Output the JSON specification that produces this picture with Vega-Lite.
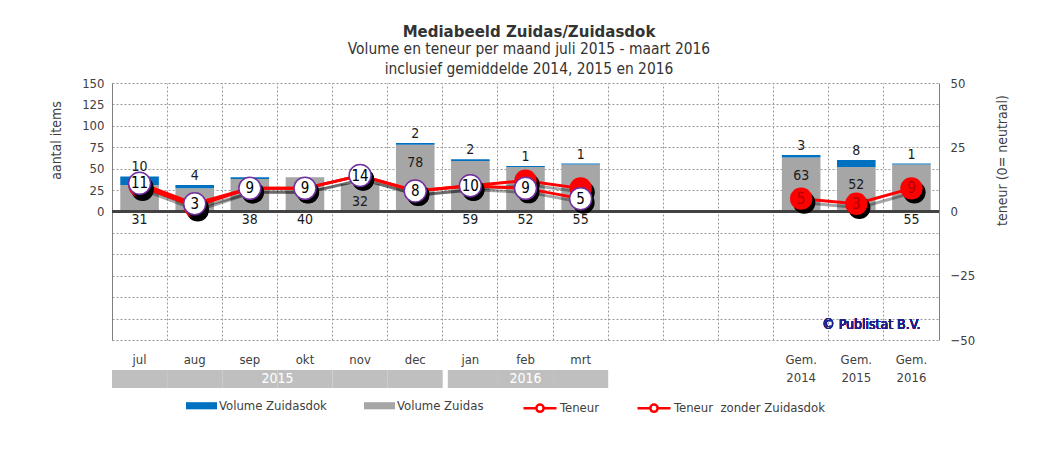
{
  "$schema": "https://vega.github.io/schema/vega-lite/v6.json",
  "padding": {"left": 48, "top": 24, "right": 40, "bottom": 20},
  "background": "white",
  "config": {
    "font": "DejaVu Sans Condensed",
    "view": {"stroke": null},
    "axis": {"labelColor": "#404040", "titleColor": "#404040", "titleFontWeight": "normal", "labelFontSize": 13, "titleFontSize": 14},
    "legend": {"labelFontSize": 13, "labelColor": "#404040"}
  },
  "title": {
    "text": "Mediabeeld Zuidas/Zuidasdok",
    "subtitle": ["Volume en teneur per maand juli 2015 - maart 2016", "inclusief gemiddelde 2014, 2015 en 2016"],
    "anchor": "middle",
    "font": "DejaVu Sans",
    "fontSize": 15,
    "fontWeight": "bold",
    "color": "#333333",
    "subtitleFont": "DejaVu Sans Condensed",
    "subtitleFontSize": 15.4,
    "subtitleColor": "#333333",
    "subtitleLineHeight": 20,
    "subtitlePadding": 2,
    "offset": 0
  },
  "datasets": {
    "maanden": [
      {"maand": "jul", "jaar": "2015", "groep": "maanden", "zuidas": 31, "zuidasdok": 10, "teneur": 10, "zonder": 11},
      {"maand": "aug", "jaar": "2015", "groep": "maanden", "zuidas": 27, "zuidasdok": 4, "teneur": 2, "zonder": 3},
      {"maand": "sep", "jaar": "2015", "groep": "maanden", "zuidas": 38, "zuidasdok": 2, "teneur": 9, "zonder": 9},
      {"maand": "okt", "jaar": "2015", "groep": "maanden", "zuidas": 40, "zuidasdok": 0, "teneur": 9, "zonder": 9},
      {"maand": "nov", "jaar": "2015", "groep": "maanden", "zuidas": 32, "zuidasdok": 0, "teneur": 14, "zonder": 14},
      {"maand": "dec", "jaar": "2015", "groep": "maanden", "zuidas": 78, "zuidasdok": 2, "teneur": 8, "zonder": 8},
      {"maand": "jan", "jaar": "2016", "groep": "maanden", "zuidas": 59, "zuidasdok": 2, "teneur": 10, "zonder": 10},
      {"maand": "feb", "jaar": "2016", "groep": "maanden", "zuidas": 52, "zuidasdok": 1, "teneur": 12, "zonder": 9},
      {"maand": "mrt", "jaar": "2016", "groep": "maanden", "zuidas": 55, "zuidasdok": 1, "teneur": 9, "zonder": 5},
      {"maand": "Gem. 2014", "jaar": null, "groep": "gemiddelden", "zuidas": 63, "zuidasdok": 3, "teneur": 5, "zonder": null},
      {"maand": "Gem. 2015", "jaar": null, "groep": "gemiddelden", "zuidas": 52, "zuidasdok": 8, "teneur": 3, "zonder": null},
      {"maand": "Gem. 2016", "jaar": null, "groep": "gemiddelden", "zuidas": 55, "zuidasdok": 1, "teneur": 9, "zonder": null}
    ]
  },
  "vconcat": [
    {
      "width": 827,
      "height": 257,
      "data": {"name": "maanden"},
      "layer": [
        {
          "transform": [{"fold": ["zuidas", "zuidasdok"], "as": ["soort", "aantal"]}],
          "mark": {"type": "bar", "width": {"band": 0.7}},
          "encoding": {
            "x": {
              "field": "maand", "type": "nominal",
              "scale": {"domain": ["jul", "aug", "sep", "okt", "nov", "dec", "jan", "feb", "mrt", " ", "  ", "   ", "Gem. 2014", "Gem. 2015", "Gem. 2016"], "paddingInner": 0, "paddingOuter": 0},
              "axis": {"orient": "top", "bandPosition": 0, "grid": true, "gridDash": [2, 2], "gridColor": "#999999", "labels": false, "ticks": false, "domain": false, "title": null}
            },
            "y": {
              "field": "aantal", "type": "quantitative", "stack": "zero",
              "scale": {"domain": [-150, 150], "nice": false},
              "axis": {
                "orient": "left",
                "values": [-150, -125, -100, -75, -50, -25, 0, 25, 50, 75, 100, 125, 150],
                "labelExpr": "datum.value >= 0 ? datum.label : ''",
                "grid": true, "gridDash": [2, 2], "gridColor": "#999999",
                "ticks": false, "domain": true, "domainColor": "#808080",
                "labelPadding": 8,
                "title": "aantal items",
                "titleX": -56, "titleY": 57, "titleAngle": -90, "titleAlign": "center", "titleBaseline": "middle"
              }
            },
            "fill": {
              "field": "soort", "type": "nominal",
              "scale": {"domain": ["zuidasdok", "zuidas"], "range": ["#0070C0", "#A6A6A6"]},
              "legend": {
                "orient": "none", "legendX": 74, "legendY": 307, "direction": "horizontal", "title": null,
                "symbolType": "M-1,-0.23H1V0.23H-1Z", "symbolSize": 961, "symbolStrokeWidth": 0,
                "labelOffset": 2, "columnPadding": 37,
                "labelExpr": "datum.value == 'zuidasdok' ? 'Volume Zuidasdok' : 'Volume Zuidas'"
              }
            },
            "order": {"field": "soort", "type": "ordinal", "sort": "ascending"}
          }
        },
        {
          "mark": {"type": "rule", "color": "#404040", "strokeWidth": 1.5},
          "encoding": {"y": {"datum": 0, "type": "quantitative", "scale": {"domain": [-150, 150], "nice": false}, "axis": null}}
        },
        {
          "transform": [{"filter": "indexof(['aug', 'nov', 'dec', 'Gem. 2014', 'Gem. 2015'], datum.maand) < 0"}],
          "mark": {"type": "text", "fontSize": 14, "color": "#1a1a1a", "baseline": "middle", "dy": 8},
          "encoding": {
            "x": {
              "field": "maand", "type": "nominal",
              "axis": {"orient": "bottom", "labelExpr": "indexof(datum.value, 'Gem.') == 0 ? split(datum.value, ' ') : datum.value", "labelAngle": 0, "ticks": false, "domain": false, "grid": false, "labelPadding": 13, "labelLineHeight": 18, "title": null}
            },
            "y": {"datum": 0, "type": "quantitative", "scale": {"domain": [-150, 150], "nice": false}, "axis": null},
            "text": {"field": "zuidas", "type": "quantitative"}
          }
        },
        {
          "transform": [{"filter": "indexof(['nov', 'dec', 'Gem. 2014', 'Gem. 2015'], datum.maand) >= 0"}],
          "mark": {"type": "text", "fontSize": 14, "color": "#1a1a1a", "baseline": "middle", "dy": 18},
          "encoding": {
            "x": {"field": "maand", "type": "nominal", "axis": null},
            "y": {"field": "zuidas", "type": "quantitative", "scale": {"domain": [-150, 150], "nice": false}, "axis": null},
            "text": {"field": "zuidas", "type": "quantitative"}
          }
        },
        {
          "transform": [
            {"fold": ["zuidas", "zuidasdok"], "as": ["soort", "aantal"]},
            {"joinaggregate": [{"op": "sum", "field": "aantal", "as": "totaal"}], "groupby": ["maand"]},
            {"filter": "datum.soort == 'zuidasdok' && datum.aantal > 0 && datum.maand != 'sep'"}
          ],
          "mark": {"type": "text", "fontSize": 14, "color": "#1a1a1a", "baseline": "middle", "dy": -9},
          "encoding": {
            "x": {"field": "maand", "type": "nominal", "axis": null},
            "y": {"field": "totaal", "type": "quantitative", "scale": {"domain": [-150, 150], "nice": false}, "axis": null},
            "text": {"field": "aantal", "type": "quantitative"}
          }
        },
        {
          "mark": {"type": "text", "fontSize": 14, "color": "#1F1F8C", "baseline": "middle", "dx": 15},
          "encoding": {
            "x": {"datum": "Gem. 2015", "type": "nominal", "axis": null},
            "y": {"datum": -133, "type": "quantitative", "scale": {"domain": [-150, 150], "nice": false}, "axis": null},
            "text": {"value": "© Publistat B.V."}
          }
        },
        {
          "mark": {"type": "line", "color": "black", "opacity": 0.35, "strokeWidth": 3, "xOffset": 3, "yOffset": 4},
          "encoding": {
            "x": {"field": "maand", "type": "nominal", "axis": null},
            "y": {"field": "teneur", "type": "quantitative", "scale": {"domain": [-50, 50], "nice": false}, "axis": null},
            "detail": {"field": "groep"},
            "order": {"value": null}
          }
        },
        {
          "mark": {"type": "line", "color": "black", "opacity": 0.35, "strokeWidth": 3, "xOffset": 3, "yOffset": 4},
          "encoding": {
            "x": {"field": "maand", "type": "nominal", "axis": null},
            "y": {"field": "zonder", "type": "quantitative", "scale": {"domain": [-50, 50], "nice": false}, "axis": null},
            "detail": {"field": "groep"},
            "order": {"value": null}
          }
        },
        {
          "mark": {"type": "line", "strokeWidth": 3},
          "encoding": {
            "x": {"field": "maand", "type": "nominal", "axis": null},
            "y": {
              "field": "teneur", "type": "quantitative", "scale": {"domain": [-50, 50], "nice": false},
              "axis": {
                "orient": "right", "values": [-50, -25, 0, 25, 50], "grid": false, "ticks": false,
                "domain": true, "domainColor": "#808080", "labelPadding": 11,
                "title": "teneur (0= neutraal)",
                "titleX": 63, "titleY": 77, "titleAngle": -90, "titleAlign": "center", "titleBaseline": "middle"
              }
            },
            "stroke": {
              "datum": "Teneur",
              "scale": {"domain": ["Teneur", "Teneur \u00a0zonder Zuidasdok"], "range": ["#FF0000", "#FF0000"]},
              "legend": {
                "orient": "none", "legendX": 410, "legendY": 307, "direction": "horizontal", "title": null,
                "symbolType": "M-1,0H-0.22A0.22,0.22 0 1,1 0.22,0A0.22,0.22 0 1,1 -0.22,0M0.22,0H1",
                "symbolSize": 1089, "symbolStrokeWidth": 2.5, "symbolFillColor": "#FFFFFF", "labelOffset": 2, "columnPadding": 33
              }
            },
            "detail": {"field": "groep"},
            "order": {"value": null}
          }
        },
        {
          "mark": {"type": "line", "strokeWidth": 3},
          "encoding": {
            "x": {"field": "maand", "type": "nominal", "axis": null},
            "y": {"field": "zonder", "type": "quantitative", "scale": {"domain": [-50, 50], "nice": false}, "axis": null},
            "stroke": {"datum": "Teneur \u00a0zonder Zuidasdok"},
            "detail": {"field": "groep"},
            "order": {"value": null}
          }
        },
        {
          "mark": {"type": "point", "filled": true, "color": "black", "size": 500, "opacity": 1, "xOffset": 3, "yOffset": 4},
          "encoding": {
            "x": {"field": "maand", "type": "nominal", "axis": null},
            "y": {"field": "teneur", "type": "quantitative", "scale": {"domain": [-50, 50], "nice": false}, "axis": null}
          }
        },
        {
          "mark": {"type": "point", "filled": true, "color": "#FF0000", "size": 500, "opacity": 1},
          "encoding": {
            "x": {"field": "maand", "type": "nominal", "axis": null},
            "y": {"field": "teneur", "type": "quantitative", "scale": {"domain": [-50, 50], "nice": false}, "axis": null}
          }
        },
        {
          "mark": {"type": "point", "filled": true, "color": "black", "size": 484, "opacity": 1, "xOffset": 3, "yOffset": 4},
          "encoding": {
            "x": {"field": "maand", "type": "nominal", "axis": null},
            "y": {"field": "zonder", "type": "quantitative", "scale": {"domain": [-50, 50], "nice": false}, "axis": null}
          }
        },
        {
          "mark": {"type": "point", "filled": true, "fill": "#FFFFFF", "stroke": "#7030A0", "strokeWidth": 1.5, "size": 484, "opacity": 1},
          "encoding": {
            "x": {"field": "maand", "type": "nominal", "axis": null},
            "y": {"field": "zonder", "type": "quantitative", "scale": {"domain": [-50, 50], "nice": false}, "axis": null}
          }
        },
        {
          "mark": {"type": "text", "fontSize": 15, "color": "#000000", "baseline": "middle"},
          "encoding": {
            "x": {"field": "maand", "type": "nominal", "axis": null},
            "y": {"field": "zonder", "type": "quantitative", "scale": {"domain": [-50, 50], "nice": false}, "axis": null},
            "text": {"field": "zonder", "type": "quantitative"}
          }
        },
        {
          "transform": [{"filter": "datum.groep == 'gemiddelden'"}],
          "mark": {"type": "text", "fontSize": 15, "color": "#B00000", "baseline": "middle"},
          "encoding": {
            "x": {"field": "maand", "type": "nominal", "axis": null},
            "y": {"field": "teneur", "type": "quantitative", "scale": {"domain": [-50, 50], "nice": false}, "axis": null},
            "text": {"field": "teneur", "type": "quantitative"}
          }
        }
      ],
      "resolve": {"scale": {"y": "independent"}}
    },
    {
      "width": 827,
      "height": 18,
      "data": {"name": "maanden"},
      "transform": [{"filter": "datum.jaar != null"}],
      "layer": [
        {
          "mark": {"type": "bar", "width": {"band": 1}, "color": "#BFBFBF"},
          "encoding": {
            "x": {
              "field": "maand", "type": "nominal",
              "scale": {"domain": ["jul", "aug", "sep", "okt", "nov", "dec", "jan", "feb", "mrt", " ", "  ", "   ", "Gem. 2014", "Gem. 2015", "Gem. 2016"], "paddingInner": 0, "paddingOuter": 0},
              "axis": null
            }
          }
        },
        {
          "transform": [{"filter": "datum.maand == 'jan'"}],
          "mark": {"type": "rule", "color": "#FFFFFF", "strokeWidth": 5, "xOffset": 2.5},
          "encoding": {
            "x": {"field": "maand", "type": "nominal", "bandPosition": 0, "axis": null}
          }
        },
        {
          "transform": [{"filter": "datum.maand == 'okt'"}],
          "mark": {"type": "text", "color": "#FFFFFF", "fontSize": 14, "baseline": "middle"},
          "encoding": {
            "x": {"field": "maand", "type": "nominal", "bandPosition": 0, "axis": null},
            "text": {"field": "jaar"}
          }
        },
        {
          "transform": [{"filter": "datum.maand == 'feb'"}],
          "mark": {"type": "text", "color": "#FFFFFF", "fontSize": 14, "baseline": "middle"},
          "encoding": {
            "x": {"field": "maand", "type": "nominal", "axis": null},
            "text": {"field": "jaar"}
          }
        }
      ]
    }
  ],
  "spacing": 30,
  "bounds": "flush"
}
